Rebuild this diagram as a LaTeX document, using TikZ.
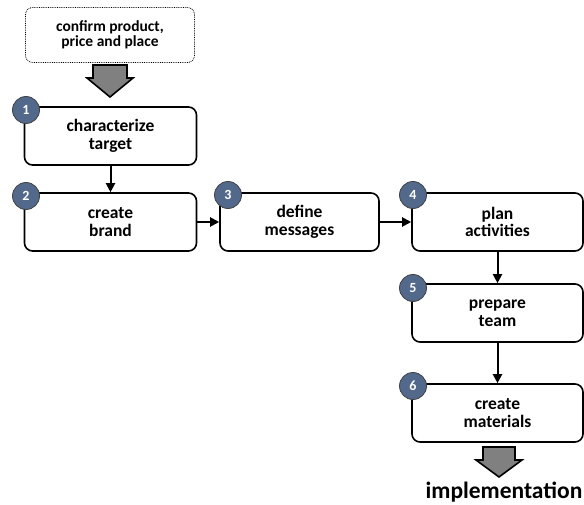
\documentclass[tikz,border=0pt]{standalone}
\usepackage{fontspec}
\setmainfont{Carlito}
\usetikzlibrary{arrows.meta}
\usetikzlibrary{positioning}
\definecolor{badgeblue}{RGB}{82,105,140}
\definecolor{blockgray}{RGB}{128,128,128}
\tikzset{task/.style={draw, line width=1.6pt, rounded corners=8pt,
         minimum height=58pt, inner sep=0pt, align=center,
         font=\bfseries\fontsize{17.5}{17.5}\selectfont},
         badge/.style={circle, draw=black!75, line width=0.8pt, fill=badgeblue,
         text=white, minimum size=27pt, inner sep=0pt,
         font=\bfseries\fontsize{14}{14}\selectfont},
         flow/.style={-{Triangle[length=9pt,width=9pt]}, line width=2pt},
         block/.style={draw, line width=1.6pt, fill=blockgray, line join=miter}}

\begin{document}
\begin{tikzpicture}[x=1pt,y=-1pt]
\useasboundingbox (0,0) rectangle (584,505);

\node[draw, densely dotted, line width=0.8pt, rounded corners=7pt,
      minimum width=169pt, minimum height=55pt, align=center,
      font=\bfseries\fontsize{15.5}{14.5}\selectfont] (start) at (110,35)
      {confirm product,\\price and place};

\node[task, minimum width=172pt] (target) at (110.5,136) {characterize\\target};
\node[task, minimum width=172pt] (brand) at (110.5,222) {create\\brand};
\node[task, minimum width=159pt] (msg) at (299.5,222) {define\\messages};
\node[task, minimum width=171pt] (plan) at (497.5,222) {plan\\activities};
\node[task, minimum width=171pt] (team) at (497.5,313) {prepare\\team};
\node[task, minimum width=171pt] (mat) at (497.5,413) {create\\materials};

\node[badge] (b1) at (26,110) {1};
\node[badge] (b2) at (26,196) {2};
\node[badge] (b3) at (228,195) {3};
\node[badge] (b4) at (413,195) {4};
\node[badge] (b5) at (413,288) {5};
\node[badge] (b6) at (413,386) {6};

\draw[flow] (target) -- (brand);
\draw[flow] (brand) -- (msg);
\draw[flow] (msg) -- (plan);
\draw[flow] (plan) -- (team);
\draw[flow] (team) -- (mat);

% block arrows
\draw[block] (93,65) -- (127,65) -- (127,78) -- (133,78) -- (110,97)
             -- (87,78) -- (93,78) -- cycle;
\draw[block] (483,447) -- (515,447) -- (515,460) -- (522,460) -- (499,477)
             -- (476,460) -- (483,460) -- cycle;

\node[anchor=base, inner sep=0pt, font=\bfseries\fontsize{23.5}{23.5}\selectfont]
      (impl) at (504,498) {implementation};

\end{tikzpicture}
\end{document}
